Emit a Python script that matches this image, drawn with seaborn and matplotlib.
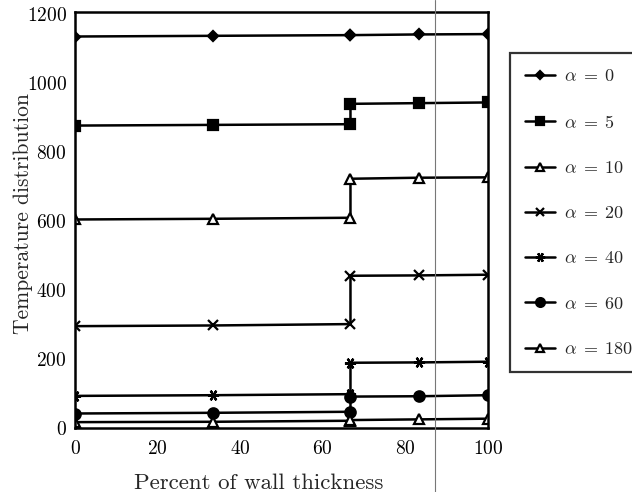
import matplotlib
matplotlib.use("Agg")
import matplotlib.pyplot as plt
from matplotlib.lines import Line2D
import seaborn as sns
import pandas as pd

# ---- data ----
x_pos = [0, 33.3, 66.7, 66.7, 83.3, 100]
alpha_labels = ["0", "5", "10", "20", "40", "60", "180"]
a0 = [1134, 1136, 1138, 1138, 1140, 1141]
a5 = [876, 878, 880, 939, 941, 943]
a10 = [604, 606, 609, 722, 725, 726]
a20 = [295, 297, 301, 441, 442, 444]
a40 = [93, 95, 98, 189, 190, 192]
a60 = [42, 44, 47, 91, 92, 95]
a180 = [17, 18, 21, 23, 25, 27]
x_ticks = [0, 20, 40, 60, 80, 100]
y_ticks = [0, 200, 400, 600, 800, 1000, 1200]

series = [a0, a5, a10, a20, a40, a60, a180]

sns.set_style("white")
plt.rcParams["font.family"] = ["cmr10", "DejaVu Serif"]
plt.rcParams["mathtext.fontset"] = "cm"
plt.rcParams["axes.formatter.use_mathtext"] = True
plt.rcParams["axes.unicode_minus"] = False

fig = plt.figure(figsize=(6.32, 4.92), dpi=100)
ax = fig.add_axes([75 / 632, 1 - 428 / 492, (488 - 75) / 632, (428 - 12) / 492])

styles = [
    dict(marker="D", markersize=5, mfc="black"),
    dict(marker="s", markersize=7.5, mfc="black"),
    dict(marker="^", markersize=6.5, mfc="white"),
    dict(marker="x", markersize=7, mfc="black"),
    dict(marker=(6, 2, 90), markersize=8, mfc="black"),
    dict(marker="o", markersize=7.5, mfc="black"),
    dict(marker="^", markersize=6.5, mfc="white"),
]

for lab, vals, st in zip(alpha_labels, series, styles):
    df = pd.DataFrame({"x": x_pos, "y": vals})
    sns.lineplot(data=df, x="x", y="y", ax=ax, sort=False, estimator=None,
                 color="black", linewidth=1.8, mec="black", mew=1.6,
                 label=r"$\alpha\;=\;%s$" % lab, **st)

ax.set_xlim(0, 100)
ax.set_ylim(0, 1205)
ax.set_xticks(x_ticks)
ax.set_yticks(y_ticks)
ax.tick_params(axis="both", length=0, labelsize=14, colors="black")
ax.tick_params(axis="x", pad=9)
ax.tick_params(axis="y", pad=6)
for s in ax.spines.values():
    s.set_color("black")
    s.set_linewidth(1.8)

ax.set_xlabel("Percent of wall thickness", fontsize=16.5)
ax.xaxis.set_label_coords(0.445, -0.11)
ax.set_ylabel("Temperature distribution", fontsize=15.5)
ax.yaxis.set_label_coords(-0.102, 0.515)

leg = ax.legend(loc="upper left", bbox_to_anchor=(510 / 632, 1 - 53 / 492),
                bbox_transform=fig.transFigure, frameon=True, fancybox=False,
                shadow=False, fontsize=13, labelspacing=1.62, handlelength=1.65,
                handletextpad=0.5, borderpad=0.85, borderaxespad=0,
                markerscale=0.85)
leg.get_frame().set_edgecolor("black")
leg.get_frame().set_linewidth(1.6)

# thin grey scan line
fig.add_artist(Line2D([435 / 632, 435 / 632], [0, 1], transform=fig.transFigure,
                      color="#777777", linewidth=0.8))

fig.savefig("out.png", dpi=100)
